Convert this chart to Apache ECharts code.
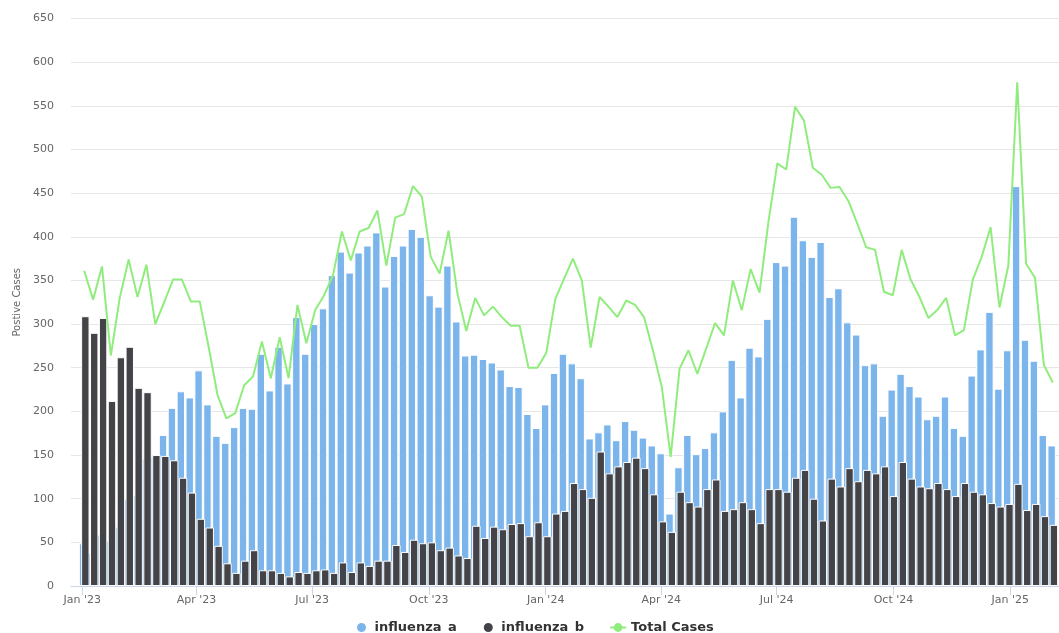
<!DOCTYPE html>
<html>
<head>
<meta charset="utf-8">
<title>Influenza positive cases</title>
<script src="https://cdn.jsdelivr.net/npm/echarts@6/dist/echarts.min.js"></script>
<style>
    html, body { margin: 0; padding: 0; background: #fff; }
    #chart { width: 1059px; height: 633px; }
</style>
</head>
<body>
<div id="chart"></div>
<script>
// weekly counts, one value per week starting with the week of 2 Jan 2023
var firstWeek = '2023-01-02T12:00:00';

var influenzaA = [
    49, 38, 59, 52, 68, 100, 104, 146, 148, 173,
    204, 223, 216, 247, 208, 172, 164, 182, 204, 203,
    266, 224, 274, 232, 308, 266, 300, 318, 356, 383,
    359, 382, 390, 405, 343, 378, 390, 409, 400, 333,
    320, 367, 303, 264, 265, 260, 256, 248, 229, 228,
    197, 181, 208, 244, 266, 255, 238, 169, 176, 185,
    167, 189, 179, 170, 161, 152, 83, 136, 173, 151,
    158, 176, 200, 259, 216, 273, 263, 306, 371, 367,
    423, 396, 377, 394, 331, 341, 302, 288, 253, 255,
    195, 225, 243, 229, 217, 191, 195, 217, 181, 172,
    241, 271, 314, 226, 270, 458, 282, 258, 173, 161
];

var influenzaB = [
    309, 290, 307, 212, 262, 274, 227, 222, 150, 149,
    144, 124, 107, 77, 67, 46, 26, 15, 29, 41,
    18, 18, 15, 11, 16, 15, 18, 19, 15, 27,
    16, 27, 23, 29, 29, 47, 39, 53, 49, 50,
    41, 44, 35, 32, 69, 55, 68, 65, 71, 72,
    57, 73, 57, 83, 86, 118, 111, 101, 154, 129,
    137, 142, 147, 135, 105, 74, 62, 108, 96, 91,
    111, 122, 86, 88, 96, 88, 72, 111, 111, 108,
    124, 133, 100, 75, 123, 114, 135, 120, 133, 129,
    137, 103, 142, 123, 114, 112, 118, 111, 103, 118,
    108, 105, 95, 91, 94, 117, 87, 94, 80, 70
];

var totalCases = [
    361, 328, 366, 264, 330, 374, 331, 368, 300, 325,
    351, 351, 326, 326, 274, 219, 192, 198, 230, 240,
    280, 238, 285, 238, 322, 278, 316, 333, 356, 406,
    373, 406, 410, 430, 367, 422, 426, 458, 446, 377,
    358, 407, 335, 292, 330, 310, 320, 308, 298, 298,
    250, 250, 267, 328, 352, 375, 350, 273, 331, 320,
    308, 327, 322, 308, 270, 228, 148, 249, 270, 243,
    272, 301, 287, 350, 316, 363, 336, 417, 484, 477,
    549, 533, 479, 471, 456, 457, 441, 415, 388, 385,
    337, 333, 385, 351, 331, 307, 316, 330, 287, 293,
    351, 377, 411, 319, 367, 577, 369, 353, 253, 233
];

var tickDates = ['2023-01-01', '2023-04-01', '2023-07-01', '2023-10-01',
    '2024-01-01', '2024-04-01', '2024-07-01', '2024-10-01', '2025-01-01'];
var tickLabels = ["Jan '23", "Apr '23", "Jul '23", "Oct '23",
    "Jan '24", "Apr '24", "Jul '24", "Oct '24", "Jan '25"];

var DAY = 24 * 3600 * 1000;
var start = new Date(firstWeek).getTime();
var tickTimes = tickDates.map(function (d) {
    return new Date(d + 'T00:00:00').getTime();
});

function pairs(values) {
    return values.map(function (v, i) {
        return [start + i * 7 * DAY, v];
    });
}

var xMin = tickTimes[0] - 8.9 * DAY;
var xMax = xMin + 778.3 * DAY;

var font = 'DejaVu Sans, Verdana, sans-serif';

var chart = echarts.init(document.getElementById('chart'));
chart.setOption({
    animation: false,
    textStyle: { fontFamily: font },
    grid: { left: 71, right: 0, top: 18.5, bottom: 47, containLabel: false },
    legend: {
        left: 355,
        top: 621,
        padding: 0,
        itemGap: 25,
        itemWidth: 16,
        itemHeight: 11,
        textStyle: { fontFamily: font, fontSize: 13, fontWeight: 'bold', color: '#333' },
        data: [
            { name: 'influenza_a', icon: 'circle' },
            { name: 'influenza_b', icon: 'circle' },
            { name: 'Total Cases' }
        ]
    },
    xAxis: {
        type: 'value',
        min: xMin,
        max: xMax,
        axisLine: { lineStyle: { color: '#ccd6eb' } },
        axisTick: { length: 9, lineStyle: { color: '#ccd6eb' }, customValues: tickTimes },
        axisLabel: {
            customValues: tickTimes,
            margin: 9,
            color: '#666',
            fontSize: 11,
            fontFamily: font,
            formatter: function (v) {
                var i = tickTimes.indexOf(v);
                return i >= 0 ? tickLabels[i] : '';
            }
        },
        splitLine: { show: false }
    },
    yAxis: {
        type: 'value',
        min: 0,
        max: 650,
        interval: 50,
        name: 'Postive Cases',
        nameLocation: 'middle',
        nameGap: 49,
        nameTextStyle: { color: '#666', fontSize: 10, fontFamily: font },
        axisLine: { show: false },
        axisTick: { show: false },
        axisLabel: { color: '#666', fontSize: 11, margin: 17, fontFamily: font },
        splitLine: { lineStyle: { color: '#e6e6e6' } }
    },
    series: [{
        name: 'influenza_a',
        type: 'bar',
        barWidth: 8.4,
        barGap: '-73%',
        itemStyle: { color: '#7cb5ec', borderColor: '#fff', borderWidth: 1 },
        data: pairs(influenzaA)
    }, {
        name: 'influenza_b',
        type: 'bar',
        barWidth: 8.4,
        barGap: '-73%',
        itemStyle: { color: '#434348', borderColor: '#fff', borderWidth: 1 },
        data: pairs(influenzaB)
    }, {
        name: 'Total Cases',
        type: 'line',
        symbol: 'circle',
        symbolSize: 8,
        showSymbol: false,
        itemStyle: { color: '#90ed7d' },
        lineStyle: { color: '#90ed7d', width: 2 },
        data: pairs(totalCases)
    }]
});
</script>
</body>
</html>
